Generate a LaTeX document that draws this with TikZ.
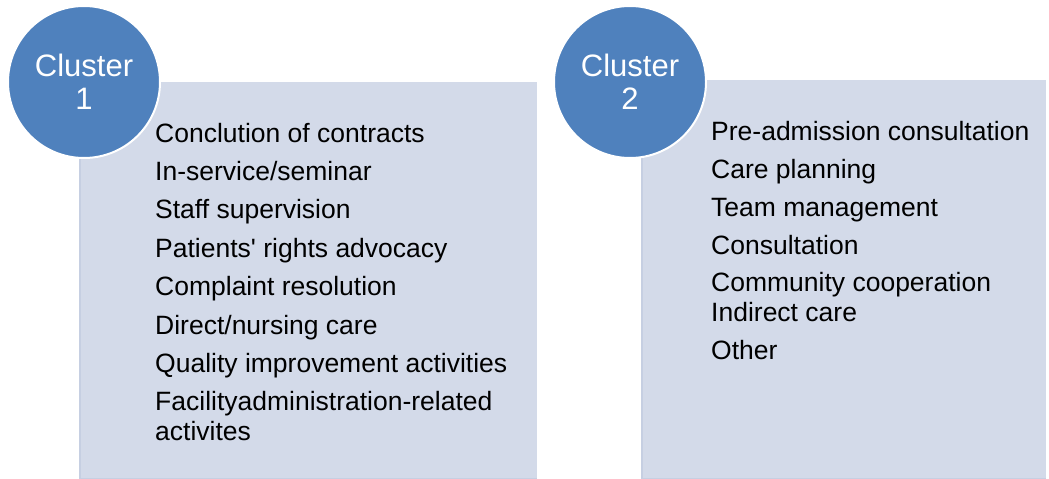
\documentclass[tikz,border=0pt]{standalone}
\usepackage{fontspec}
\setmainfont{Liberation Sans}
\definecolor{panelfill}{HTML}{D3DAE9}
\definecolor{paneledge}{HTML}{C6CFE2}
\definecolor{clusterblue}{HTML}{4F81BD}
\tikzset{
    panel/.style={fill=panelfill, draw=none},
    cluster/.style={circle, fill=clusterblue, draw=white, line width=2pt,
        minimum size=152pt, inner sep=0pt, text=white, align=center,
        font=\fontsize{31}{33}\selectfont},
    item/.style={anchor=base west, inner sep=0pt, align=left,
        font=\fontsize{26.5}{29.5}\selectfont}
}
\begin{document}
\begin{tikzpicture}[x=1pt,y=-1pt]
    \useasboundingbox (0,0) rectangle (1049,479);

    % the two panels, with a faint edge on the left and bottom
    \fill[paneledge] (79,82) rectangle (537,479);
    \node[panel, anchor=north west, minimum width=456pt, minimum height=396pt, inner sep=0pt] (panel1) at (81,82) {};
    \fill[paneledge] (641,80) rectangle (1046,479);
    \node[panel, anchor=north west, minimum width=403pt, minimum height=398pt, inner sep=0pt] (panel2) at (643,80) {};

    % cluster badges
    \node[cluster] (cluster1) at (84,82) {Cluster\\1};
    \node[cluster] (cluster2) at (630,82) {Cluster\\2};

    % first list (two-line items sit on their last baseline)
    \foreach \txt [count=\i] in {Conclution of contracts, In-service/seminar,
        Staff supervision, Patients\textquotesingle{} rights advocacy, Complaint resolution,
        Direct/nursing care, Quality improvement activities}
        \node[item] (itemA\i) at (155,142+38.4*\i-38.4) {\txt};
    \node[item] (itemA8) at (155,440) {Facilityadministration-related\\activites};

    % second list
    \foreach \txt [count=\i] in {Pre-admission consultation, Care planning,
        Team management, Consultation}
        \node[item] (itemB\i) at (711,140+38.3*\i-38.3) {\txt};
    \node[item] (itemB5) at (711,321) {Community cooperation\\Indirect care};
    \node[item] (itemB6) at (711,359) {Other};
\end{tikzpicture}
\end{document}
